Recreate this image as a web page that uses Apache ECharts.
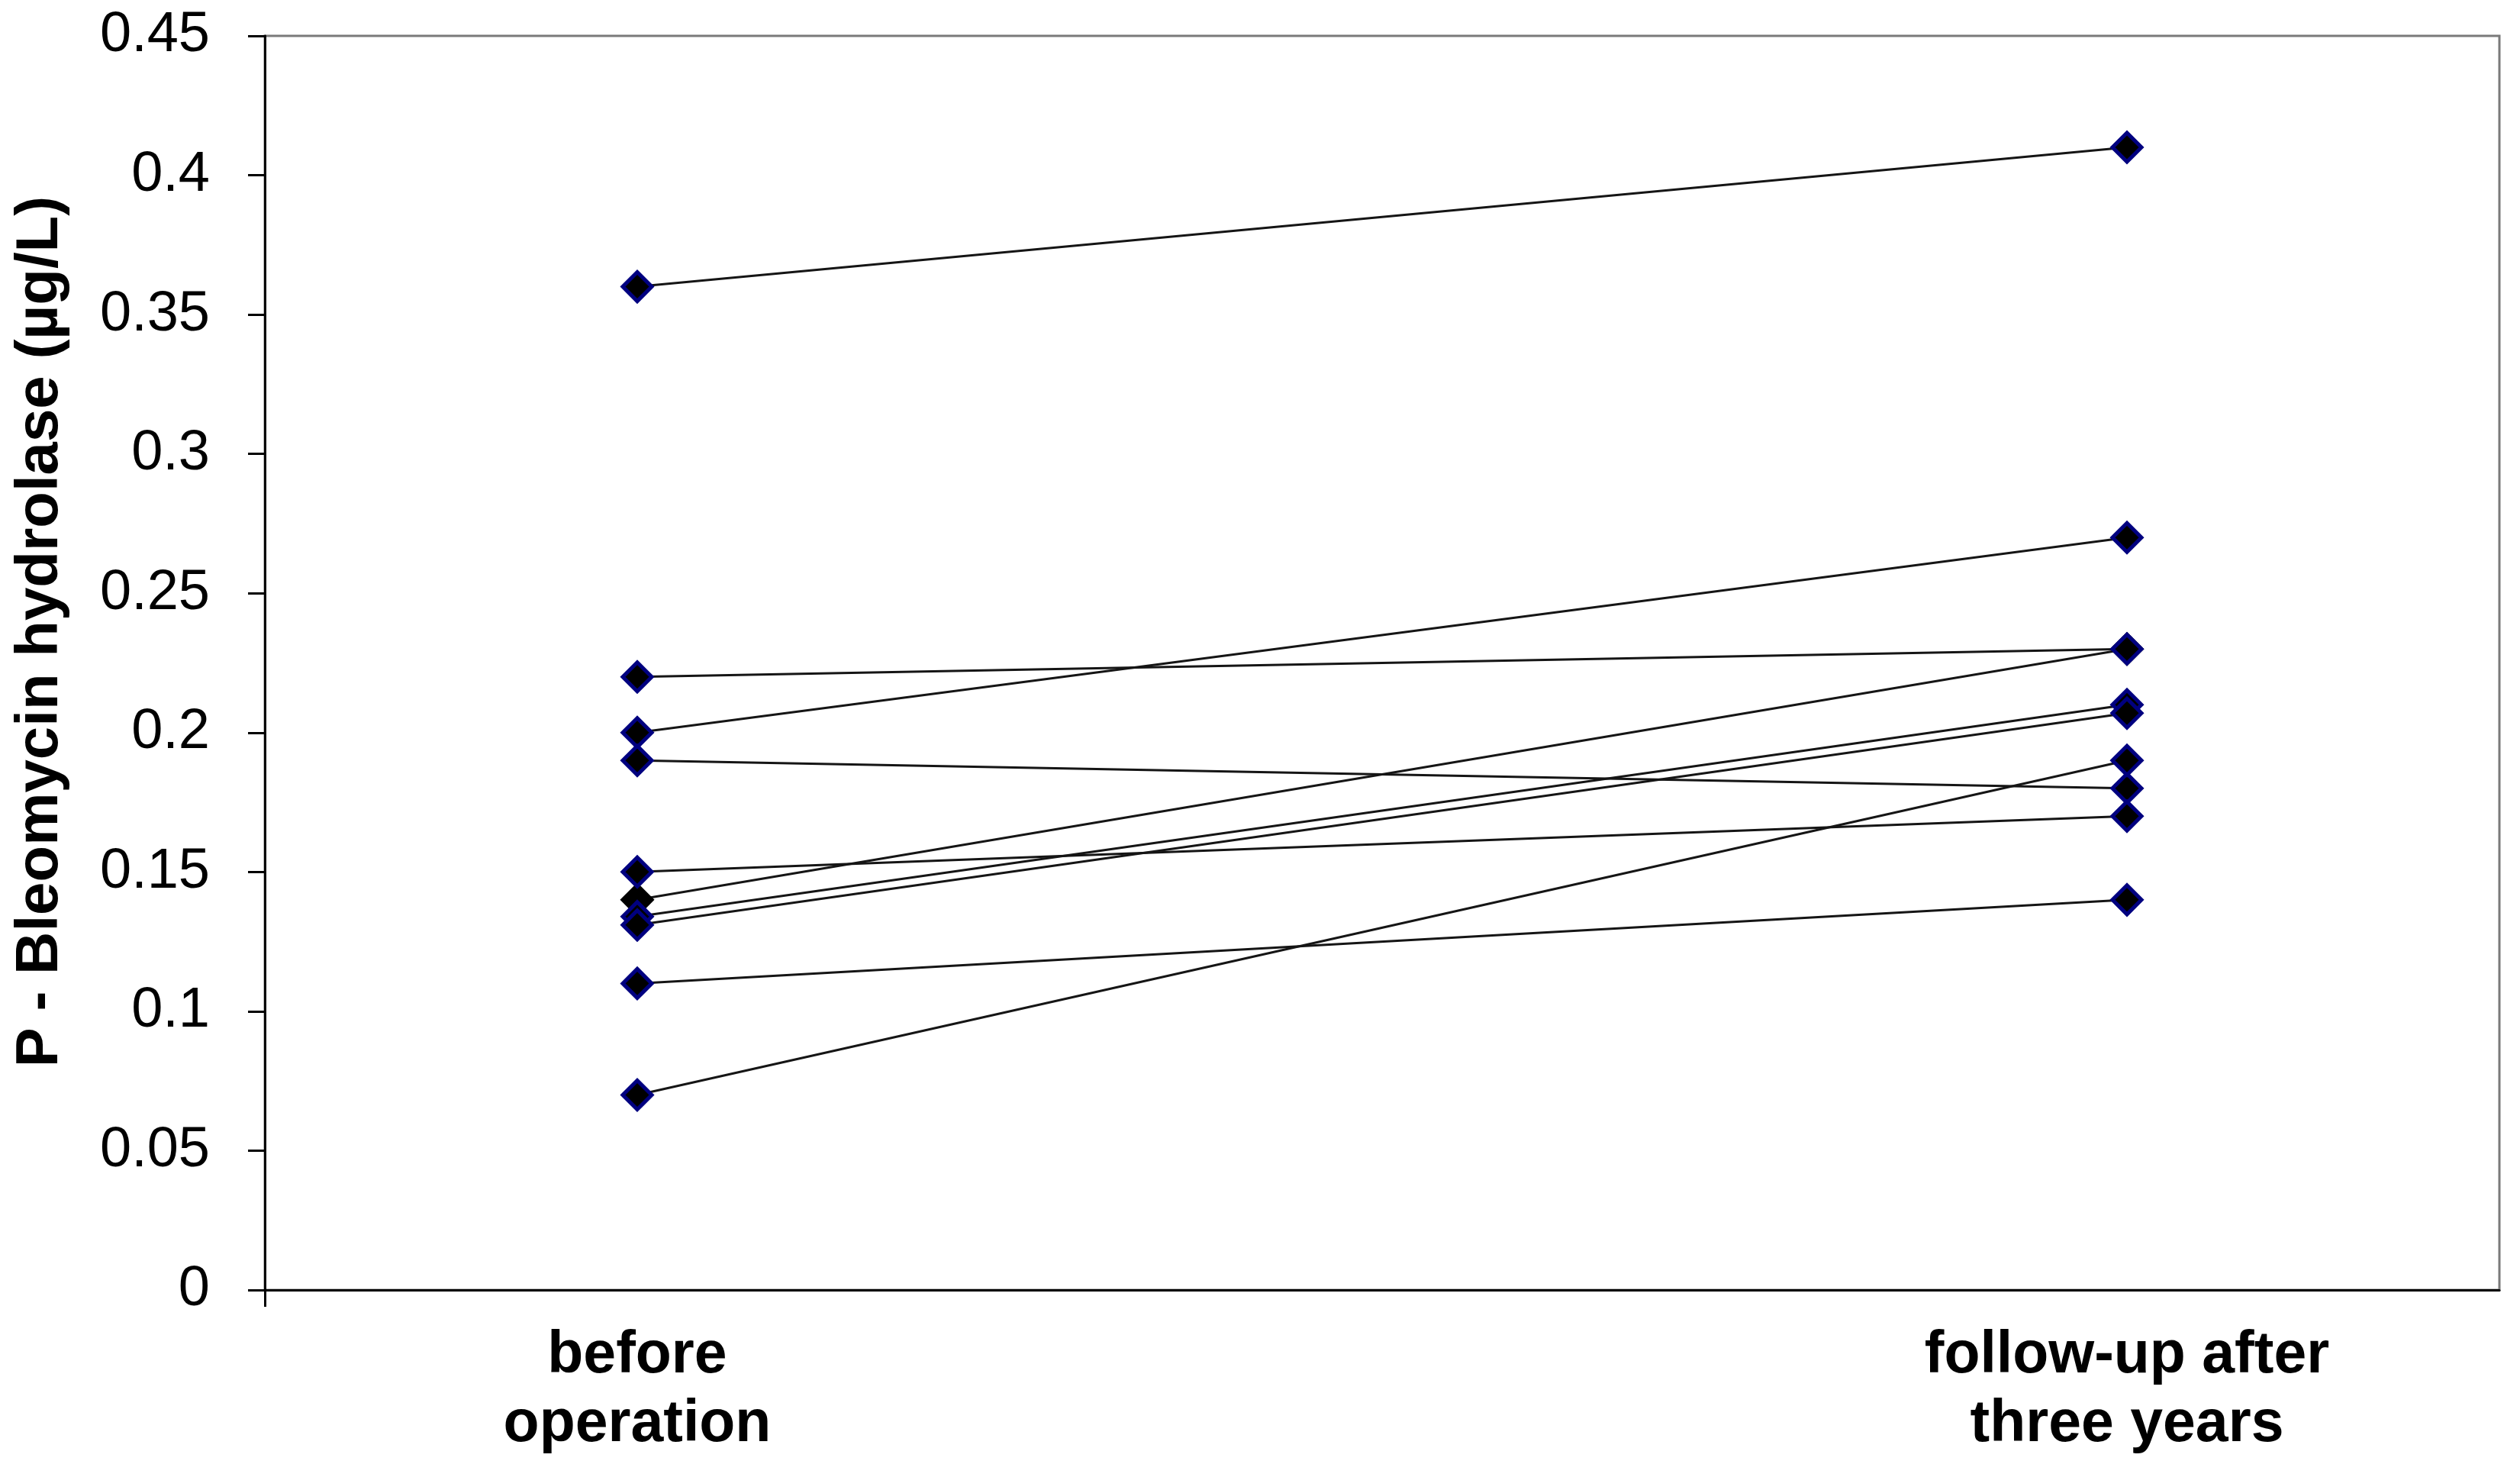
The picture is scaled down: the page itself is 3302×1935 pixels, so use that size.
<!DOCTYPE html>
<html>
<head>
<meta charset="utf-8">
<script src="https://cdn.jsdelivr.net/npm/echarts@6/dist/echarts.min.js"></script>
<style>
html,body{margin:0;padding:0;background:#fff;}
#chart{width:3302px;height:1935px;}
</style>
</head>
<body>
<div id="chart"></div>
<script>
// Data
var categories = ['before\noperation', 'follow-up after\nthree years'];
var categoryPositions = [1, 2];
var beforeValues = [0.14, 0.36, 0.22, 0.20, 0.19, 0.15, 0.134, 0.131, 0.11, 0.07];
var afterValues  = [0.23, 0.41, 0.23, 0.27, 0.18, 0.17, 0.21, 0.207, 0.14, 0.19];
var yTicks = [0, 0.05, 0.1, 0.15, 0.2, 0.25, 0.3, 0.35, 0.4, 0.45];
var yAxisTitle = 'P - Bleomycin hydrolase (µg/L)';

var FONT = '"Liberation Sans", Arial, sans-serif';

var series = beforeValues.map(function (b, i) {
  return {
    type: 'line',
    data: [[categoryPositions[0], b], [categoryPositions[1], afterValues[i]]],
    symbol: 'diamond',
    symbolSize: 38,
    lineStyle: { color: '#151515', width: 3 },
    itemStyle: { color: '#000000', borderColor: i === 0 ? '#000000' : '#000080', borderWidth: 5 },
    emphasis: { disabled: true },
    animation: false,
    z: 2
  };
});

var chart = echarts.init(document.getElementById('chart'), null, { renderer: 'canvas' });
chart.setOption({
  backgroundColor: '#ffffff',
  animation: false,
  grid: {
    left: 347, right: 27, top: 47, bottom: 245,
    show: true, borderColor: '#7a7a7a', borderWidth: 3, backgroundColor: 'transparent'
  },
  xAxis: {
    type: 'value',
    min: 0.75, max: 2.25, interval: 0.25,
    splitLine: { show: false },
    axisLine: { show: true, lineStyle: { color: '#000', width: 3 } },
    axisTick: { show: true, customValues: [0.75], length: 22, lineStyle: { color: '#000', width: 3 } },
    axisLabel: {
      customValues: categoryPositions,
      formatter: function (v) {
        var idx = categoryPositions.indexOf(v);
        return idx >= 0 ? categories[idx] : '';
      },
      fontFamily: FONT, fontSize: 77, fontWeight: 'bold', color: '#000',
      lineHeight: 90, margin: 42
    }
  },
  yAxis: {
    type: 'value',
    min: yTicks[0], max: yTicks[yTicks.length - 1], interval: 0.05,
    splitLine: { show: false },
    axisLine: { show: true, lineStyle: { color: '#000', width: 3 } },
    axisTick: { show: true, length: 22, lineStyle: { color: '#000', width: 3 } },
    axisLabel: {
      fontFamily: FONT, fontSize: 74, color: '#000', margin: 72,
      formatter: function (v) { return String(+v.toFixed(2)); }
    },
    name: yAxisTitle,
    nameLocation: 'middle',
    nameGap: 255,
    nameTextStyle: {
      fontFamily: FONT, fontSize: 78, fontWeight: 'bold', color: '#000',
      padding: [0, 0, 0, 82]
    }
  },
  series: series
});
</script>
</body>
</html>
